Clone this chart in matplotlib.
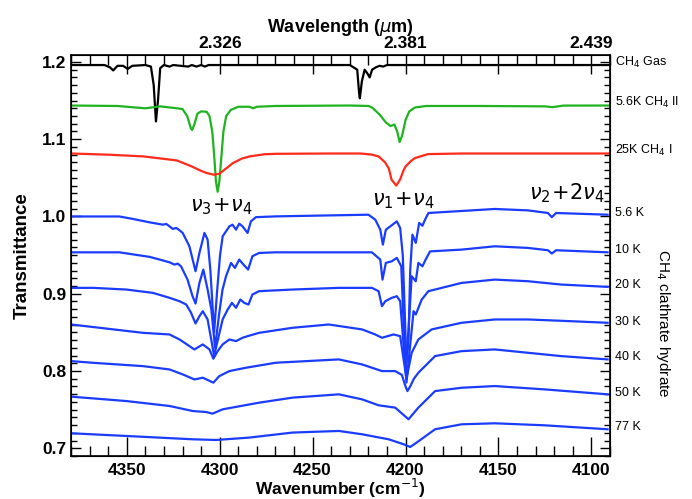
import numpy as np
import matplotlib
matplotlib.use("Agg")
import matplotlib.pyplot as plt
from matplotlib.ticker import MultipleLocator, FuncFormatter

plt.rcParams['font.family'] = ['Liberation Sans', 'DejaVu Sans']
plt.rcParams['mathtext.fontset'] = 'dejavusans'

# ---- data (wavenumber cm-1, transmittance) ----
gas_wn = [4380, 4362, 4359, 4357.3, 4355, 4352, 4349.5, 4347, 4340, 4337, 4335.5, 4334.3,
          4333.2, 4332, 4330, 4327, 4325, 4317, 4315, 4312.5, 4310, 4308, 4306, 4230,
          4228, 4226, 4225, 4224.6, 4223.5, 4222, 4220.5, 4219.3, 4218, 4216, 4214,
          4212, 4210, 4090]
gas_t = [1.196, 1.196, 1.193, 1.189, 1.195, 1.195, 1.191, 1.195, 1.196, 1.194, 1.170, 1.123,
         1.150, 1.192, 1.196, 1.194, 1.196, 1.194, 1.196, 1.194, 1.196, 1.194, 1.196, 1.196,
         1.193, 1.190, 1.160, 1.153, 1.175, 1.190, 1.185, 1.180, 1.190, 1.193, 1.195,
         1.194, 1.196, 1.196]

ch4ii_wn = [4380, 4355, 4340, 4332, 4323, 4320, 4317.5, 4315.5, 4314.8, 4313.5, 4312, 4310,
            4307, 4305.5, 4304, 4303, 4302, 4301.1, 4300.2, 4299, 4298, 4296.5, 4294, 4290,
            4284, 4282, 4280, 4270, 4230, 4220, 4218, 4214, 4210.7, 4208.1, 4206, 4204.5,
            4203.2, 4201.8, 4200, 4198, 4195, 4189, 4160, 4125, 4121, 4115, 4090]
ch4ii_t = [1.1436, 1.143, 1.140, 1.1425, 1.140, 1.139, 1.130, 1.114, 1.112, 1.120, 1.133, 1.136,
           1.1355, 1.130, 1.110, 1.080, 1.045, 1.032, 1.045, 1.080, 1.110, 1.130, 1.138, 1.142,
           1.142, 1.140, 1.142, 1.143, 1.1436, 1.143, 1.141, 1.132, 1.122, 1.117, 1.119, 1.110,
           1.0963, 1.105, 1.125, 1.136, 1.141, 1.143, 1.143, 1.1425, 1.1415, 1.1435, 1.1436]

ch4i_wn = [4380, 4360, 4341, 4323, 4315, 4310, 4307, 4303, 4300, 4298.6, 4295, 4293, 4288,
           4284, 4276, 4270, 4240, 4224, 4218, 4214.5, 4211, 4209, 4207.5, 4205, 4203, 4201,
           4200, 4197, 4195, 4188, 4170, 4090]
ch4i_t = [1.0815, 1.080, 1.0777, 1.0725, 1.0647, 1.059, 1.0562, 1.054, 1.0555, 1.0583, 1.065,
          1.069, 1.075, 1.0777, 1.0805, 1.0811, 1.0815, 1.0815, 1.080, 1.0777, 1.070, 1.062,
          1.0475, 1.040, 1.0475, 1.060, 1.0647, 1.072, 1.0755, 1.0807, 1.0815, 1.0815]

wn_5k = [4380, 4354, 4346.7, 4337.7, 4330.6, 4328.7, 4325.2, 4323.4, 4322, 4319.9, 4316.3,
         4313, 4310.9, 4308.2, 4306.5, 4305, 4303, 4301.5, 4299.8, 4298.4, 4294.8, 4293.1,
         4291.2, 4289.5, 4287.7, 4285, 4283.2, 4280.5, 4270, 4220, 4216.3, 4213.6, 4212.2,
         4210.6, 4208.2, 4204.7, 4202.9, 4201.5, 4199.5, 4198.4, 4197.5, 4196.3, 4194.5,
         4192.7, 4190.9, 4189.5, 4187.7, 4152, 4134.2, 4123.4, 4121.3, 4119, 4091.3]
t_5k = [1.000, 1.000, 0.9968, 0.9924, 0.9894, 0.9903, 0.9839, 0.9851, 0.9829, 0.9787, 0.9614,
        0.9291, 0.9528, 0.9787, 0.970, 0.930, 0.850, 0.900, 0.950, 0.9743, 0.9872, 0.9894,
        0.9829, 0.9907, 0.9872, 0.9787, 0.9937, 0.9991, 1.0001, 1.0023, 0.9959, 0.9829, 0.9636,
        0.9829, 0.9872, 0.9937, 0.9851, 0.950, 0.810, 0.840, 0.930, 0.9765, 0.9658,
        0.9916, 0.988, 0.9959, 1.0045, 1.0097, 1.0079, 1.0045, 0.9991, 1.0045, 1.0023]

wn_10k = [4380, 4354, 4337.7, 4332.3, 4327, 4324.3, 4322.6, 4320.8, 4317.3, 4314.6, 4313,
          4310.9, 4308.8, 4306.5, 4304.5, 4302.5, 4300.5, 4298.5, 4296.6, 4293.9, 4291.8,
          4289.5, 4287.2, 4284.7, 4282.4, 4278.8, 4270, 4218.1, 4213.6, 4212.4, 4210.6,
          4207.4, 4204.7, 4202.3, 4200, 4198.5, 4196.7, 4194.5, 4193.1, 4190.9, 4189.2,
          4186.8, 4169.9, 4152, 4134.2, 4123.4, 4121.3, 4119, 4091.3]
t_10k = [0.9536, 0.9536, 0.9477, 0.9442, 0.9407, 0.9377, 0.939, 0.9355, 0.9183, 0.8968, 0.8873,
         0.914, 0.9313, 0.9054, 0.880, 0.830, 0.870, 0.905, 0.9226, 0.9399, 0.9334,
         0.9442, 0.9377, 0.9313, 0.9485, 0.9528, 0.9536, 0.9536, 0.9442, 0.9183, 0.9399,
         0.942, 0.9464, 0.9355, 0.800, 0.850, 0.9226, 0.9162, 0.9399, 0.9355, 0.9442,
         0.9548, 0.9571, 0.9614, 0.9593, 0.9563, 0.952, 0.9563, 0.9536]

wn_20k = [4380, 4368, 4350.2, 4335.9, 4327, 4321.6, 4318, 4315.4, 4313, 4310.9, 4309.1,
          4306.5, 4303, 4298.4, 4295.7, 4293.4, 4291.2, 4288.9, 4286.8, 4284.5, 4282.4,
          4278.8, 4261.1, 4235.9, 4218.1, 4214.5, 4212.7, 4210.9, 4207.4, 4204.7, 4202.9,
          4199.5, 4195.7, 4194.5, 4191.3, 4187.7, 4169.9, 4152, 4134.2, 4116.4, 4091.3]
t_20k = [0.9076, 0.9076, 0.9054, 0.9011, 0.8947, 0.8903, 0.886, 0.8753, 0.8615, 0.8709, 0.8774,
         0.8667, 0.820, 0.8667, 0.8796, 0.8882, 0.8818, 0.8925, 0.8882, 0.886, 0.899,
         0.9033, 0.9054, 0.9076, 0.9076, 0.9033, 0.8839, 0.8903, 0.8947, 0.8968, 0.8903,
         0.785, 0.8774, 0.8731, 0.8925, 0.9033, 0.914, 0.9183, 0.9162, 0.9119, 0.9089]

wn_30k = [4380, 4364.5, 4341.3, 4327, 4321.6, 4316.3, 4313.6, 4309.1, 4305.5, 4303.4, 4301.1,
          4298.4, 4294.8, 4291.2, 4287.7, 4285, 4278.8, 4260.9, 4241.3, 4223.4, 4216.3,
          4212.7, 4206.5, 4202.9, 4199.5, 4196.7, 4193.1, 4186, 4169.9, 4152, 4134.2,
          4116.4, 4091.3]
t_30k = [0.8602, 0.8559, 0.8494, 0.8473, 0.8408, 0.8322, 0.8279, 0.8344, 0.8279, 0.8159, 0.8257,
         0.8344, 0.8408, 0.8387, 0.843, 0.8451, 0.8494, 0.8559, 0.8602, 0.8538, 0.8473,
         0.843, 0.8473, 0.8451, 0.790, 0.8236, 0.8408, 0.8538, 0.8624, 0.8667, 0.8667,
         0.865, 0.8624]

wn_40k = [4380, 4368.1, 4341.3, 4327, 4319.9, 4313.6, 4309.1, 4303.4, 4300.2, 4294.8, 4285.9,
          4269.8, 4235.9, 4223.4, 4212.7, 4205.6, 4202, 4200, 4199, 4197.5, 4195.5, 4193.1,
          4184.1, 4169.9, 4152, 4134.2, 4116.4, 4091.3]
t_40k = [0.8128, 0.8106, 0.8063, 0.802, 0.7956, 0.7891, 0.7913, 0.7849, 0.7934, 0.7999, 0.8042,
         0.8107, 0.815, 0.8085, 0.7999, 0.7999, 0.795, 0.780, 0.774, 0.780, 0.790, 0.7978,
         0.8193, 0.8257, 0.8279, 0.8236, 0.8193, 0.815]

wn_50k = [4380, 4350.2, 4327, 4314.5, 4307.3, 4303.8, 4298.4, 4278.8, 4260.9, 4235.9, 4223.4,
          4214.5, 4205.6, 4198.4, 4193.1, 4184.1, 4169.9, 4152, 4125.2, 4091.3]
t_50k = [0.7668, 0.7611, 0.7547, 0.7482, 0.7469, 0.7448, 0.7504, 0.759, 0.7655, 0.7698, 0.7633,
         0.7556, 0.7526, 0.7375, 0.7526, 0.774, 0.7783, 0.7805, 0.7762, 0.7698]

wn_77k = [4380, 4350.2, 4314.5, 4302, 4284.1, 4260.9, 4235.9, 4223.4, 4209.1, 4201.1, 4197.5,
          4194, 4184.1, 4169.9, 4152, 4125.2, 4091.3]
t_77k = [0.7194, 0.7159, 0.7116, 0.7107, 0.7138, 0.7203, 0.7224, 0.7181, 0.7116, 0.7052, 0.7017,
         0.7074, 0.7246, 0.731, 0.7323, 0.7297, 0.7246]

clathrate = [(wn_5k, t_5k), (wn_10k, t_10k), (wn_20k, t_20k), (wn_30k, t_30k),
             (wn_40k, t_40k), (wn_50k, t_50k), (wn_77k, t_77k)]
clath_labels = ["5.6 K", "10 K", "20 K", "30 K", "40 K", "50 K", "77 K"]
clath_label_y = [1.005, 0.956, 0.911, 0.863, 0.818, 0.771, 0.727]

blue = "#1a3cff"
green = "#1fb41f"
red = "#ff2a1a"

fig = plt.figure(figsize=(6.92, 4.99), dpi=100)
ax = fig.add_axes([0.1026, 0.0862, 0.7789, 0.8036])

ax.plot(gas_wn, gas_t, color="black", lw=1.6)
ax.plot(ch4ii_wn, ch4ii_t, color=green, lw=1.6)
ax.plot(ch4i_wn, ch4i_t, color=red, lw=1.6)
for wn, t in clathrate:
    ax.plot(wn, t, color=blue, lw=1.6)

ax.set_xlim(4380, 4090)
ax.set_ylim(0.69, 1.209)

ax.xaxis.set_major_locator(MultipleLocator(50))
ax.xaxis.set_minor_locator(MultipleLocator(10))
ax.yaxis.set_major_locator(MultipleLocator(0.1))
ax.yaxis.set_minor_locator(MultipleLocator(0.01))
ax.yaxis.set_major_formatter(FuncFormatter(lambda v, p: f"{v:.1f}"))
ax.tick_params(axis="x", which="major", direction="in", length=13.5, width=1, top=False, pad=5)
ax.tick_params(axis="x", which="minor", direction="in", length=7, width=1, top=False)
ax.tick_params(axis="y", which="major", direction="in", length=7.5, width=1, right=True)
ax.tick_params(axis="y", which="minor", direction="in", length=4, width=1, right=True)
for lab in ax.get_xticklabels() + ax.get_yticklabels():
    lab.set_fontweight("bold")
    lab.set_fontsize(12.5)
ax.set_xlabel("Wavenumber (cm$^{-1}$)", fontsize=12.5, fontweight="bold", labelpad=-1)
ax.set_ylabel("Transmittance", fontsize=13.5, fontweight="bold", labelpad=8)
for s in ax.spines.values():
    s.set_linewidth(1.2)

# top wavelength axis
ax2 = ax.twiny()
ax2.set_xlim(ax.get_xlim())
ax2.xaxis.set_major_locator(MultipleLocator(50))
ax2.xaxis.set_minor_locator(MultipleLocator(10))
lam_ticks = [4300, 4200, 4100]
ax2.xaxis.set_major_formatter(FuncFormatter(
    lambda v, p: f"{1e4 / v:.3f}" if round(v) in lam_ticks else ""))
ax2.tick_params(axis="x", which="major", direction="in", length=13.5, width=1, pad=3)
ax2.tick_params(axis="x", which="minor", direction="in", length=7, width=1)
for lab in ax2.get_xticklabels():
    lab.set_fontweight("bold")
    lab.set_fontsize(12.5)
ax2.set_xlabel("Wavelength ($\\mu$m)", fontsize=13, fontweight="bold", labelpad=3)

# right-hand labels
rx = 1.010
tr = ax.get_yaxis_transform()
ax.text(rx, 1.199, "CH$_4$ Gas", transform=tr, fontsize=9, va="center")
ax.text(rx, 1.148, "5.6K CH$_4$ II", transform=tr, fontsize=9, va="center")
ax.text(rx, 1.086, "25K CH$_4$ I", transform=tr, fontsize=9, va="center")
for lab, y in zip(clath_labels, clath_label_y):
    ax.text(rx, y, lab, transform=tr, fontsize=9, va="center")
ax.text(1.098, 0.862, "CH$_4$ clathrate hydrate", transform=tr,
        fontsize=11, rotation=270, va="center", ha="center")

# band annotations
ax.text(4299, 1.013, r"$\nu_3\!+\!\nu_4$", fontsize=15, ha="center", va="center")
ax.text(4201, 1.021, r"$\nu_1\!+\!\nu_4$", fontsize=15, ha="center", va="center")
ax.text(4113, 1.030, r"$\nu_2\!+\!2\nu_4$", fontsize=15, ha="center", va="center")

fig.savefig("out.png", dpi=100)
